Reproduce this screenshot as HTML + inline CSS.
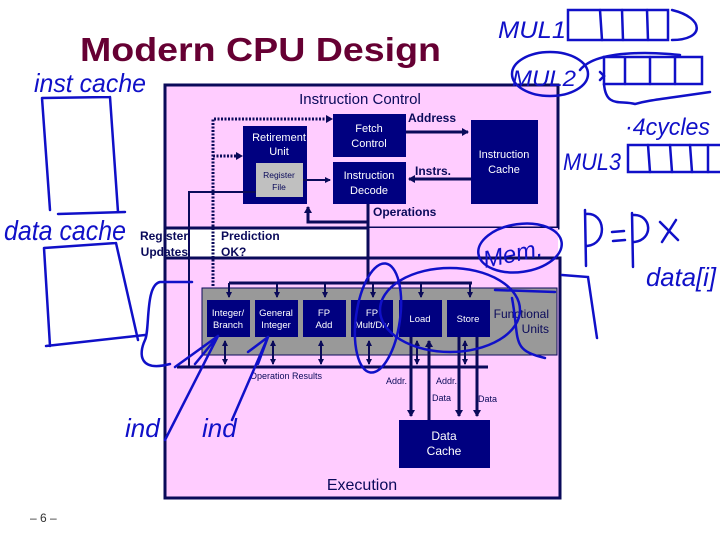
<!DOCTYPE html>
<html><head><meta charset="utf-8"><style>
html,body{margin:0;padding:0;background:#fff;width:720px;height:540px;overflow:hidden}
svg{display:block}
text{font-family:"Liberation Sans",Arial,sans-serif}
</style></head><body>
<svg width="720" height="540" viewBox="0 0 720 540" xmlns="http://www.w3.org/2000/svg">
<defs>
<marker id="ah" markerWidth="8" markerHeight="8" refX="6" refY="4" orient="auto" markerUnits="userSpaceOnUse"><path d="M0,0 L7,4 L0,8 z" fill="#0a0a5a"/></marker>
<marker id="ahs" markerWidth="6" markerHeight="6" refX="5" refY="3" orient="auto-start-reverse" markerUnits="userSpaceOnUse"><path d="M0,0 L6,3 L0,6 z" fill="#0a0a5a"/></marker>
</defs>
<text x="80" y="61" font-size="33" font-weight="bold" fill="#660033" textLength="361" lengthAdjust="spacingAndGlyphs">Modern CPU Design</text>

<rect x="165" y="85" width="393" height="143" fill="#ffccff" stroke="#0a0a5a" stroke-width="3"/>
<rect x="368" y="228" width="190" height="30" fill="#ffccff"/>
<rect x="165" y="258" width="395" height="240" fill="#ffccff" stroke="#0a0a5a" stroke-width="3"/>
<line x1="165" y1="228" x2="165" y2="258" stroke="#0a0a5a" stroke-width="3"/>

<text x="360" y="104" font-size="15" fill="#0a0a5a" text-anchor="middle">Instruction Control</text>

<rect x="333" y="114" width="73" height="43" fill="#000080"/>
<text x="369" y="132" font-size="11" fill="#fff" text-anchor="middle">Fetch</text>
<text x="369" y="147" font-size="11" fill="#fff" text-anchor="middle">Control</text>
<rect x="243" y="126" width="64" height="78" fill="#000080"/>
<text x="279" y="141" font-size="11" fill="#fff" text-anchor="middle">Retirement</text>
<text x="279" y="155" font-size="11" fill="#fff" text-anchor="middle">Unit</text>
<rect x="256" y="163" width="47" height="34" fill="#c0c0c0"/>
<text x="279" y="178" font-size="8.5" fill="#0a0a5a" text-anchor="middle">Register</text>
<text x="279" y="190" font-size="8.5" fill="#0a0a5a" text-anchor="middle">File</text>
<rect x="333" y="162" width="73" height="42" fill="#000080"/>
<text x="369" y="179" font-size="11" fill="#fff" text-anchor="middle">Instruction</text>
<text x="369" y="194" font-size="11" fill="#fff" text-anchor="middle">Decode</text>
<rect x="471" y="120" width="67" height="84" fill="#000080"/>
<text x="504" y="158" font-size="11" fill="#fff" text-anchor="middle">Instruction</text>
<text x="504" y="173" font-size="11" fill="#fff" text-anchor="middle">Cache</text>

<text x="408" y="122" font-size="12" font-weight="bold" fill="#0a0a5a">Address</text>
<text x="415" y="175" font-size="12" font-weight="bold" fill="#0a0a5a">Instrs.</text>
<text x="373" y="216" font-size="12" font-weight="bold" fill="#0a0a5a">Operations</text>

<g stroke="#0a0a5a" stroke-width="3" fill="none">
<line x1="406" y1="132" x2="468" y2="132" marker-end="url(#ah)"/>
<line x1="471" y1="179" x2="409" y2="179" marker-end="url(#ah)"/>
<line x1="303" y1="180" x2="330" y2="180" stroke-width="2" marker-end="url(#ahs)"/>
<polyline points="368,204 368,222 308,222 308,207" marker-end="url(#ah)"/>
<line x1="368" y1="222" x2="368" y2="283"/>
</g>
<g stroke="#0a0a5a" stroke-width="3" stroke-dasharray="2,1.5" fill="none">
<polyline points="213,300 213,119 330,119"/>
<line x1="213" y1="156" x2="238" y2="156"/>
</g>
<path d="M326,115 L333,119 L326,123z M236,152 L243,156 L236,160z" fill="#0a0a5a"/>

<text x="188" y="240" font-size="12" fill="#0a0a5a" text-anchor="end" font-weight="bold">Register</text>
<text x="188" y="256" font-size="12" fill="#0a0a5a" text-anchor="end" font-weight="bold">Updates</text>
<text x="221" y="240" font-size="12" fill="#0a0a5a" font-weight="bold">Prediction</text>
<text x="221" y="256" font-size="12" fill="#0a0a5a" font-weight="bold">OK?</text>

<polyline points="256,192 189,192 189,367" stroke="#0a0a5a" stroke-width="2" fill="none"/>

<rect x="202" y="288" width="355" height="67" fill="#999" stroke="#0a0a5a" stroke-width="1"/>
<text x="549" y="318" font-size="12" fill="#0a0a5a" text-anchor="end">Functional</text>
<text x="549" y="333" font-size="12" fill="#0a0a5a" text-anchor="end">Units</text>

<g fill="#000080">
<rect x="207" y="300" width="43" height="37"/>
<rect x="255" y="300" width="43" height="37"/>
<rect x="303" y="300" width="43" height="37"/>
<rect x="351" y="300" width="42" height="37"/>
<rect x="399" y="300" width="43" height="37"/>
<rect x="447" y="300" width="43" height="37"/>
<rect x="399" y="420" width="91" height="48"/>
</g>
<g fill="#fff" font-size="9.5" text-anchor="middle">
<text x="228" y="316">Integer/</text><text x="228" y="328">Branch</text>
<text x="276" y="316">General</text><text x="276" y="328">Integer</text>
<text x="324" y="316">FP</text><text x="324" y="328">Add</text>
<text x="372" y="316">FP</text><text x="372" y="328">Mult/Div</text>
<text x="420" y="322">Load</text>
<text x="468" y="322">Store</text>
<text x="444" y="440" font-size="12">Data</text>
<text x="444" y="455" font-size="12">Cache</text>
</g>

<g stroke="#0a0a5a" stroke-width="2" fill="none">
<line x1="229" y1="283" x2="472" y2="283" stroke-width="3"/>
<line x1="229" y1="283" x2="229" y2="297" marker-end="url(#ahs)"/>
<line x1="277" y1="283" x2="277" y2="297" marker-end="url(#ahs)"/>
<line x1="325" y1="283" x2="325" y2="297" marker-end="url(#ahs)"/>
<line x1="373" y1="283" x2="373" y2="297" marker-end="url(#ahs)"/>
<line x1="421" y1="283" x2="421" y2="297" marker-end="url(#ahs)"/>
<line x1="470" y1="283" x2="470" y2="297" marker-end="url(#ahs)"/>
<line x1="177" y1="367" x2="488" y2="367" stroke-width="3"/>
<line x1="225" y1="341" x2="225" y2="364" marker-start="url(#ahs)" marker-end="url(#ahs)"/>
<line x1="273" y1="341" x2="273" y2="364" marker-start="url(#ahs)" marker-end="url(#ahs)"/>
<line x1="321" y1="341" x2="321" y2="364" marker-start="url(#ahs)" marker-end="url(#ahs)"/>
<line x1="369" y1="341" x2="369" y2="364" marker-start="url(#ahs)" marker-end="url(#ahs)"/>
<line x1="417" y1="341" x2="417" y2="364" marker-start="url(#ahs)" marker-end="url(#ahs)"/>
<line x1="465" y1="341" x2="465" y2="364" marker-start="url(#ahs)" marker-end="url(#ahs)"/>
<line x1="411" y1="337" x2="411" y2="416" stroke-width="3" marker-end="url(#ah)"/>
<line x1="429" y1="420" x2="429" y2="341" stroke-width="3" marker-end="url(#ah)"/>
<line x1="459" y1="337" x2="459" y2="416" stroke-width="3" marker-end="url(#ah)"/>
<line x1="477" y1="337" x2="477" y2="416" stroke-width="3" marker-end="url(#ah)"/>
</g>
<g font-size="9" fill="#0a0a5a">
<text x="250" y="379">Operation Results</text>
<text x="386" y="384">Addr.</text>
<text x="436" y="384">Addr.</text>
<text x="432" y="401">Data</text>
<text x="478" y="402">Data</text>
</g>
<text x="362" y="490" font-size="16" fill="#0a0a5a" text-anchor="middle">Execution</text>
<text x="30" y="522" font-size="12" fill="#333">– 6 –</text>

<g stroke="#1010c8" stroke-width="2.5" fill="none" stroke-linecap="round">
<path d="M42,98 L110,97 M42,98 L50,210 M110,97 L118,212 M58,214 L125,212"/>
<path d="M44,248 L116,243 M44,248 L50,346 M116,243 L138,340 M46,346 L145,335"/>
<path d="M192,282 L160,282 C145,285 150,330 145,340 C138,355 140,372 170,364"/>
<path d="M218,336 L175,367 M218,336 L195,364 M218,336 L165,440 M268,337 L248,352 M268,337 L232,420 M268,337 L258,364"/>
<ellipse cx="378" cy="318" rx="22" ry="55" transform="rotate(8 378 318)"/>
<ellipse cx="450" cy="310" rx="70" ry="42"/>
<path d="M495,290 L555,292 M512,298 C520,340 510,350 545,358"/>
<ellipse cx="520" cy="248" rx="42" ry="24" transform="rotate(-8 520 248)"/>
<path d="M562,275 L588,277 L597,338"/>
<rect x="568" y="10" width="100" height="30"/>
<path d="M600,10 L602,40 M622,10 L623,40 M647,10 L648,40 M672,10 C705,18 705,40 672,40"/>
<ellipse cx="550" cy="74" rx="38" ry="22"/>
<path d="M580,70 C600,45 680,55 680,55 M600,72 L604,76 L600,80"/>
<rect x="604" y="57" width="98" height="27"/>
<path d="M625,57 L625,84 M650,57 L650,84 M675,57 L675,84 M604,84 C606,108 620,100 635,104 C650,100 655,100 710,92"/>
<rect x="628" y="145" width="100" height="27"/>
<path d="M648,145 L650,172 M670,145 L672,172 M690,145 L692,172 M708,145 L708,172"/>
<path d="M585,210 L586,266 M586,214 C606,212 608,244 587,246 M612,232 L624,231 M613,241 L625,240 M632,213 L633,267 M633,215 C652,214 654,240 634,242 M660,222 L678,240 M676,220 L662,242"/>
</g>
<g fill="#1010c8" font-family="'DejaVu Sans',sans-serif" font-style="italic">
<text x="34" y="92" font-size="26" textLength="112" lengthAdjust="spacingAndGlyphs">inst cache</text>
<text x="4" y="240" font-size="28" textLength="122" lengthAdjust="spacingAndGlyphs">data cache</text>
<text x="125" y="437" font-size="26">ind</text>
<text x="202" y="437" font-size="26">ind</text>
<text x="485" y="268" font-size="24" transform="rotate(-12 485 268)">Mem.</text>
<text x="498" y="38" font-size="24" textLength="68" lengthAdjust="spacingAndGlyphs">MUL1</text>
<text x="512" y="86" font-size="22" textLength="64" lengthAdjust="spacingAndGlyphs">MUL2</text>
<text x="625" y="135" font-size="24" textLength="85" lengthAdjust="spacingAndGlyphs">·4cycles</text>
<text x="563" y="170" font-size="24" textLength="58" lengthAdjust="spacingAndGlyphs">MUL3</text>
<text x="646" y="286" font-size="26" textLength="70" lengthAdjust="spacingAndGlyphs">data[i]</text>
</g>
</svg>
</body></html>
